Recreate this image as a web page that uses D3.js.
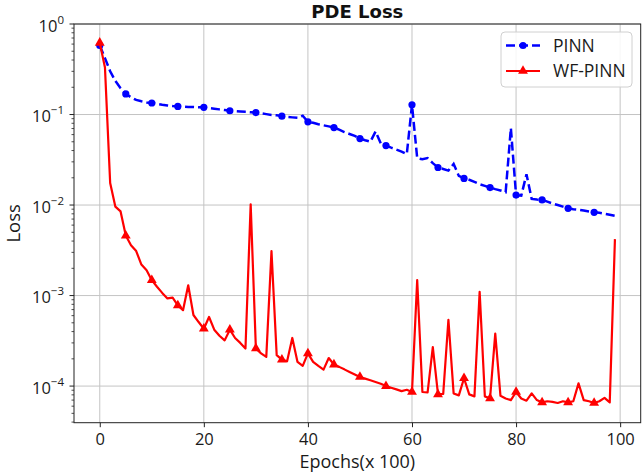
<!DOCTYPE html>
<html>
<head>
<meta charset="utf-8">
<script src="https://cdn.jsdelivr.net/npm/d3@7"></script>
<style>
  html, body { margin: 0; padding: 0; background: #fff; }
  svg { display: block; font-family: "Open Sans", "Noto Sans", sans-serif; }
</style>
</head>
<body>
<svg id="chart" width="643" height="476"></svg>
<script>
// ---------- data ----------
const chartTitle = "PDE Loss";
const xLabel = "Epochs(x 100)";
const yLabel = "Loss";
const seriesNames = ["PINN", "WF-PINN"];

const pinnLoss = [
  0.58, 0.42, 0.30, 0.235, 0.195, 0.169, 0.155, 0.145, 0.140, 0.136,
  0.134, 0.131, 0.128, 0.126, 0.124, 0.123, 0.122, 0.121, 0.121, 0.120,
  0.120, 0.118, 0.116, 0.114, 0.112, 0.110, 0.109, 0.108, 0.107, 0.106,
  0.105, 0.103, 0.101, 0.099, 0.098, 0.096, 0.094, 0.093, 0.092, 0.097,
  0.083, 0.081, 0.078, 0.076, 0.074, 0.0718, 0.068, 0.064, 0.061, 0.058,
  0.0543, 0.052, 0.050, 0.065, 0.048, 0.0454, 0.043, 0.041, 0.039, 0.0365,
  0.128, 0.033, 0.032, 0.033, 0.029, 0.026, 0.025, 0.024, 0.0285, 0.021,
  0.0197, 0.019, 0.018, 0.017, 0.0163, 0.0156, 0.015, 0.0145, 0.0139, 0.0707,
  0.0129, 0.0127, 0.0219, 0.0117, 0.0115, 0.0114, 0.0109, 0.0104, 0.0100, 0.0096,
  0.0092, 0.0090, 0.0089, 0.0087, 0.0085, 0.0083, 0.0082, 0.0080, 0.0078, 0.0076
];

const wfPinnLoss = [
  0.62, 0.33, 0.0175, 0.0096, 0.0085, 0.0046, 0.0036, 0.0031, 0.0022, 0.0019,
  0.00148, 0.00125, 0.00107, 0.00093, 0.00095, 0.00078, 0.00069, 0.0013, 0.00061, 0.00051,
  0.00043, 0.00058, 0.00042, 0.00036, 0.00032, 0.00042, 0.00034, 0.00030, 0.00026, 0.0102,
  0.00026, 0.00023, 0.00021, 0.0031, 0.00022, 0.000196, 0.000188, 0.00034, 0.000185, 0.000167,
  0.00023, 0.000185, 0.000167, 0.000152, 0.000204, 0.000173, 0.000163, 0.000153, 0.000143, 0.000134,
  0.000126, 0.000121, 0.000116, 0.000111, 0.000106, 0.000100, 0.000096, 0.000092, 0.000088, 0.000091,
  0.000086, 0.00148, 0.000086, 0.000085, 0.00027, 0.000081, 0.000082, 0.00054, 0.000083, 0.000079,
  0.000122, 0.000081, 0.000077, 0.00110, 0.000077, 0.000073, 0.00038, 0.000078, 0.000073, 0.000070,
  0.000086, 0.000073, 0.000069, 0.000083, 0.000070, 0.000066, 0.000068, 0.000067, 0.000065, 0.000068,
  0.000066, 0.000068, 0.000107, 0.000070, 0.000068, 0.000065, 0.000068, 0.000074, 0.000066, 0.0042
];

const xTicks = [0, 20, 40, 60, 80, 100];
const yTickExponents = [0, -1, -2, -3, -4];

// ---------- layout ----------
const plot = { left: 74, right: 640.7, top: 24, bottom: 422.7 };
const markEvery = 5;

const svg = d3.select("#chart");

const x = d3.scaleLinear().domain([-4.95, 103.95]).range([plot.left, plot.right]);
const y = d3.scaleLog().domain([3.94e-5, 1.0]).range([plot.bottom, plot.top]);

// grid
const gGrid = svg.append("g");
gGrid.selectAll("line.vx").data(xTicks).join("line")
  .attr("x1", d => x(d)).attr("x2", d => x(d))
  .attr("y1", plot.top).attr("y2", plot.bottom)
  .attr("stroke", "#c4c4c4").attr("stroke-width", 1);
gGrid.selectAll("line.hy").data(yTickExponents).join("line")
  .attr("x1", plot.left).attr("x2", plot.right)
  .attr("y1", d => y(Math.pow(10, d))).attr("y2", d => y(Math.pow(10, d)))
  .attr("stroke", "#c4c4c4").attr("stroke-width", 1);

// x axis
const xAxis = d3.axisBottom(x).tickValues(xTicks).tickSize(4.5).tickPadding(6).tickFormat(d3.format("d"));
const gx = svg.append("g").attr("transform", `translate(0,${plot.bottom})`).call(xAxis);
gx.select(".domain").remove();
gx.selectAll("line").attr("stroke", "#222").attr("stroke-width", 1);
gx.selectAll("text").attr("font-size", 16.5).attr("fill", "#1a1a1a")
  .attr("font-family", "'Open Sans', 'Noto Sans', sans-serif");

// y axis: major + minor ticks
const yMinor = [];
[-5, -4, -3, -2, -1].forEach(e => {
  for (let m = 2; m <= 9; m++) {
    const v = m * Math.pow(10, e);
    if (v >= y.domain()[0] && v <= y.domain()[1]) yMinor.push(v);
  }
});
const gy = svg.append("g");
gy.selectAll("line.minor").data(yMinor).join("line")
  .attr("x1", plot.left - 2.5).attr("x2", plot.left)
  .attr("y1", d => y(d)).attr("y2", d => y(d))
  .attr("stroke", "#222").attr("stroke-width", 0.8);
gy.selectAll("line.major").data(yTickExponents).join("line")
  .attr("x1", plot.left - 4.5).attr("x2", plot.left)
  .attr("y1", d => y(Math.pow(10, d))).attr("y2", d => y(Math.pow(10, d)))
  .attr("stroke", "#222").attr("stroke-width", 1);
const yt = gy.selectAll("text.ylab").data(yTickExponents).join("text")
  .attr("x", plot.left - 10)
  .attr("y", d => y(Math.pow(10, d)) + 7.5)
  .attr("text-anchor", "end")
  .attr("font-size", 16.5).attr("fill", "#1a1a1a");
yt.append("tspan").text("10");
yt.append("tspan").attr("dy", -8).attr("font-size", 11.5)
  .text(d => d === 0 ? "0" : "\u2212" + Math.abs(d));

// frame
svg.append("rect")
  .attr("x", plot.left).attr("y", plot.top)
  .attr("width", plot.right - plot.left).attr("height", plot.bottom - plot.top)
  .attr("fill", "none").attr("stroke", "#222").attr("stroke-width", 1);

// lines
const line = d3.line().x((d, i) => x(i)).y(d => y(d));
const triangle = d3.symbol().type(d3.symbolTriangle).size(42);

// PINN
svg.append("path").datum(pinnLoss)
  .attr("d", line).attr("fill", "none")
  .attr("stroke", "#0000ff").attr("stroke-width", 2.5)
  .attr("stroke-dasharray", "9,4");
svg.append("g").selectAll("circle").data(pinnLoss.map((v, i) => [i, v]).filter(d => d[0] % markEvery === 0))
  .join("circle")
  .attr("cx", d => x(d[0])).attr("cy", d => y(d[1])).attr("r", 3.6)
  .attr("fill", "#0000ff");

// WF-PINN
svg.append("path").datum(wfPinnLoss)
  .attr("d", line).attr("fill", "none")
  .attr("stroke", "#ff0000").attr("stroke-width", 2.2)
  .attr("stroke-linejoin", "round");
svg.append("g").selectAll("path").data(wfPinnLoss.map((v, i) => [i, v]).filter(d => d[0] % markEvery === 0))
  .join("path")
  .attr("d", triangle)
  .attr("transform", d => `translate(${x(d[0])},${y(d[1])})`)
  .attr("fill", "#ff0000");

// title and labels
svg.append("text").attr("x", (plot.left + plot.right) / 2).attr("y", 17.5)
  .attr("text-anchor", "middle").attr("font-size", 18).attr("font-weight", "bold")
  .attr("font-family", "'DejaVu Sans', sans-serif")
  .attr("fill", "#111").text(chartTitle);
svg.append("text").attr("x", (plot.left + plot.right) / 2).attr("y", 468)
  .attr("text-anchor", "middle").attr("font-size", 18).attr("fill", "#1a1a1a").text(xLabel);
svg.append("text").attr("transform", `translate(20,${(plot.top + plot.bottom) / 2}) rotate(-90)`)
  .attr("text-anchor", "middle").attr("font-size", 18.5).attr("fill", "#1a1a1a").text(yLabel);

// legend
const lg = svg.append("g").attr("transform", "translate(501,32)");
lg.append("rect").attr("width", 131).attr("height", 55).attr("rx", 4)
  .attr("fill", "rgba(255,255,255,0.85)").attr("stroke", "#d0d0d0").attr("stroke-width", 1);
const rows = [
  { name: seriesNames[0], color: "#0000ff", dash: "9,4", width: 2.5, marker: "circle", cy: 13.5 },
  { name: seriesNames[1], color: "#ff0000", dash: null, width: 2.2, marker: "triangle", cy: 39 }
];
rows.forEach(r => {
  lg.append("line").attr("x1", 5).attr("x2", 39).attr("y1", r.cy).attr("y2", r.cy)
    .attr("stroke", r.color).attr("stroke-width", r.width)
    .attr("stroke-dasharray", r.dash);
  if (r.marker === "circle") {
    lg.append("circle").attr("cx", 22).attr("cy", r.cy).attr("r", 3.6).attr("fill", r.color);
  } else {
    lg.append("path").attr("d", triangle).attr("transform", `translate(22,${r.cy})`).attr("fill", r.color);
  }
  lg.append("text").attr("x", 52).attr("y", r.cy + 6).attr("font-size", 17.5)
    .attr("fill", "#1a1a1a").text(r.name);
});
</script>
</body>
</html>
